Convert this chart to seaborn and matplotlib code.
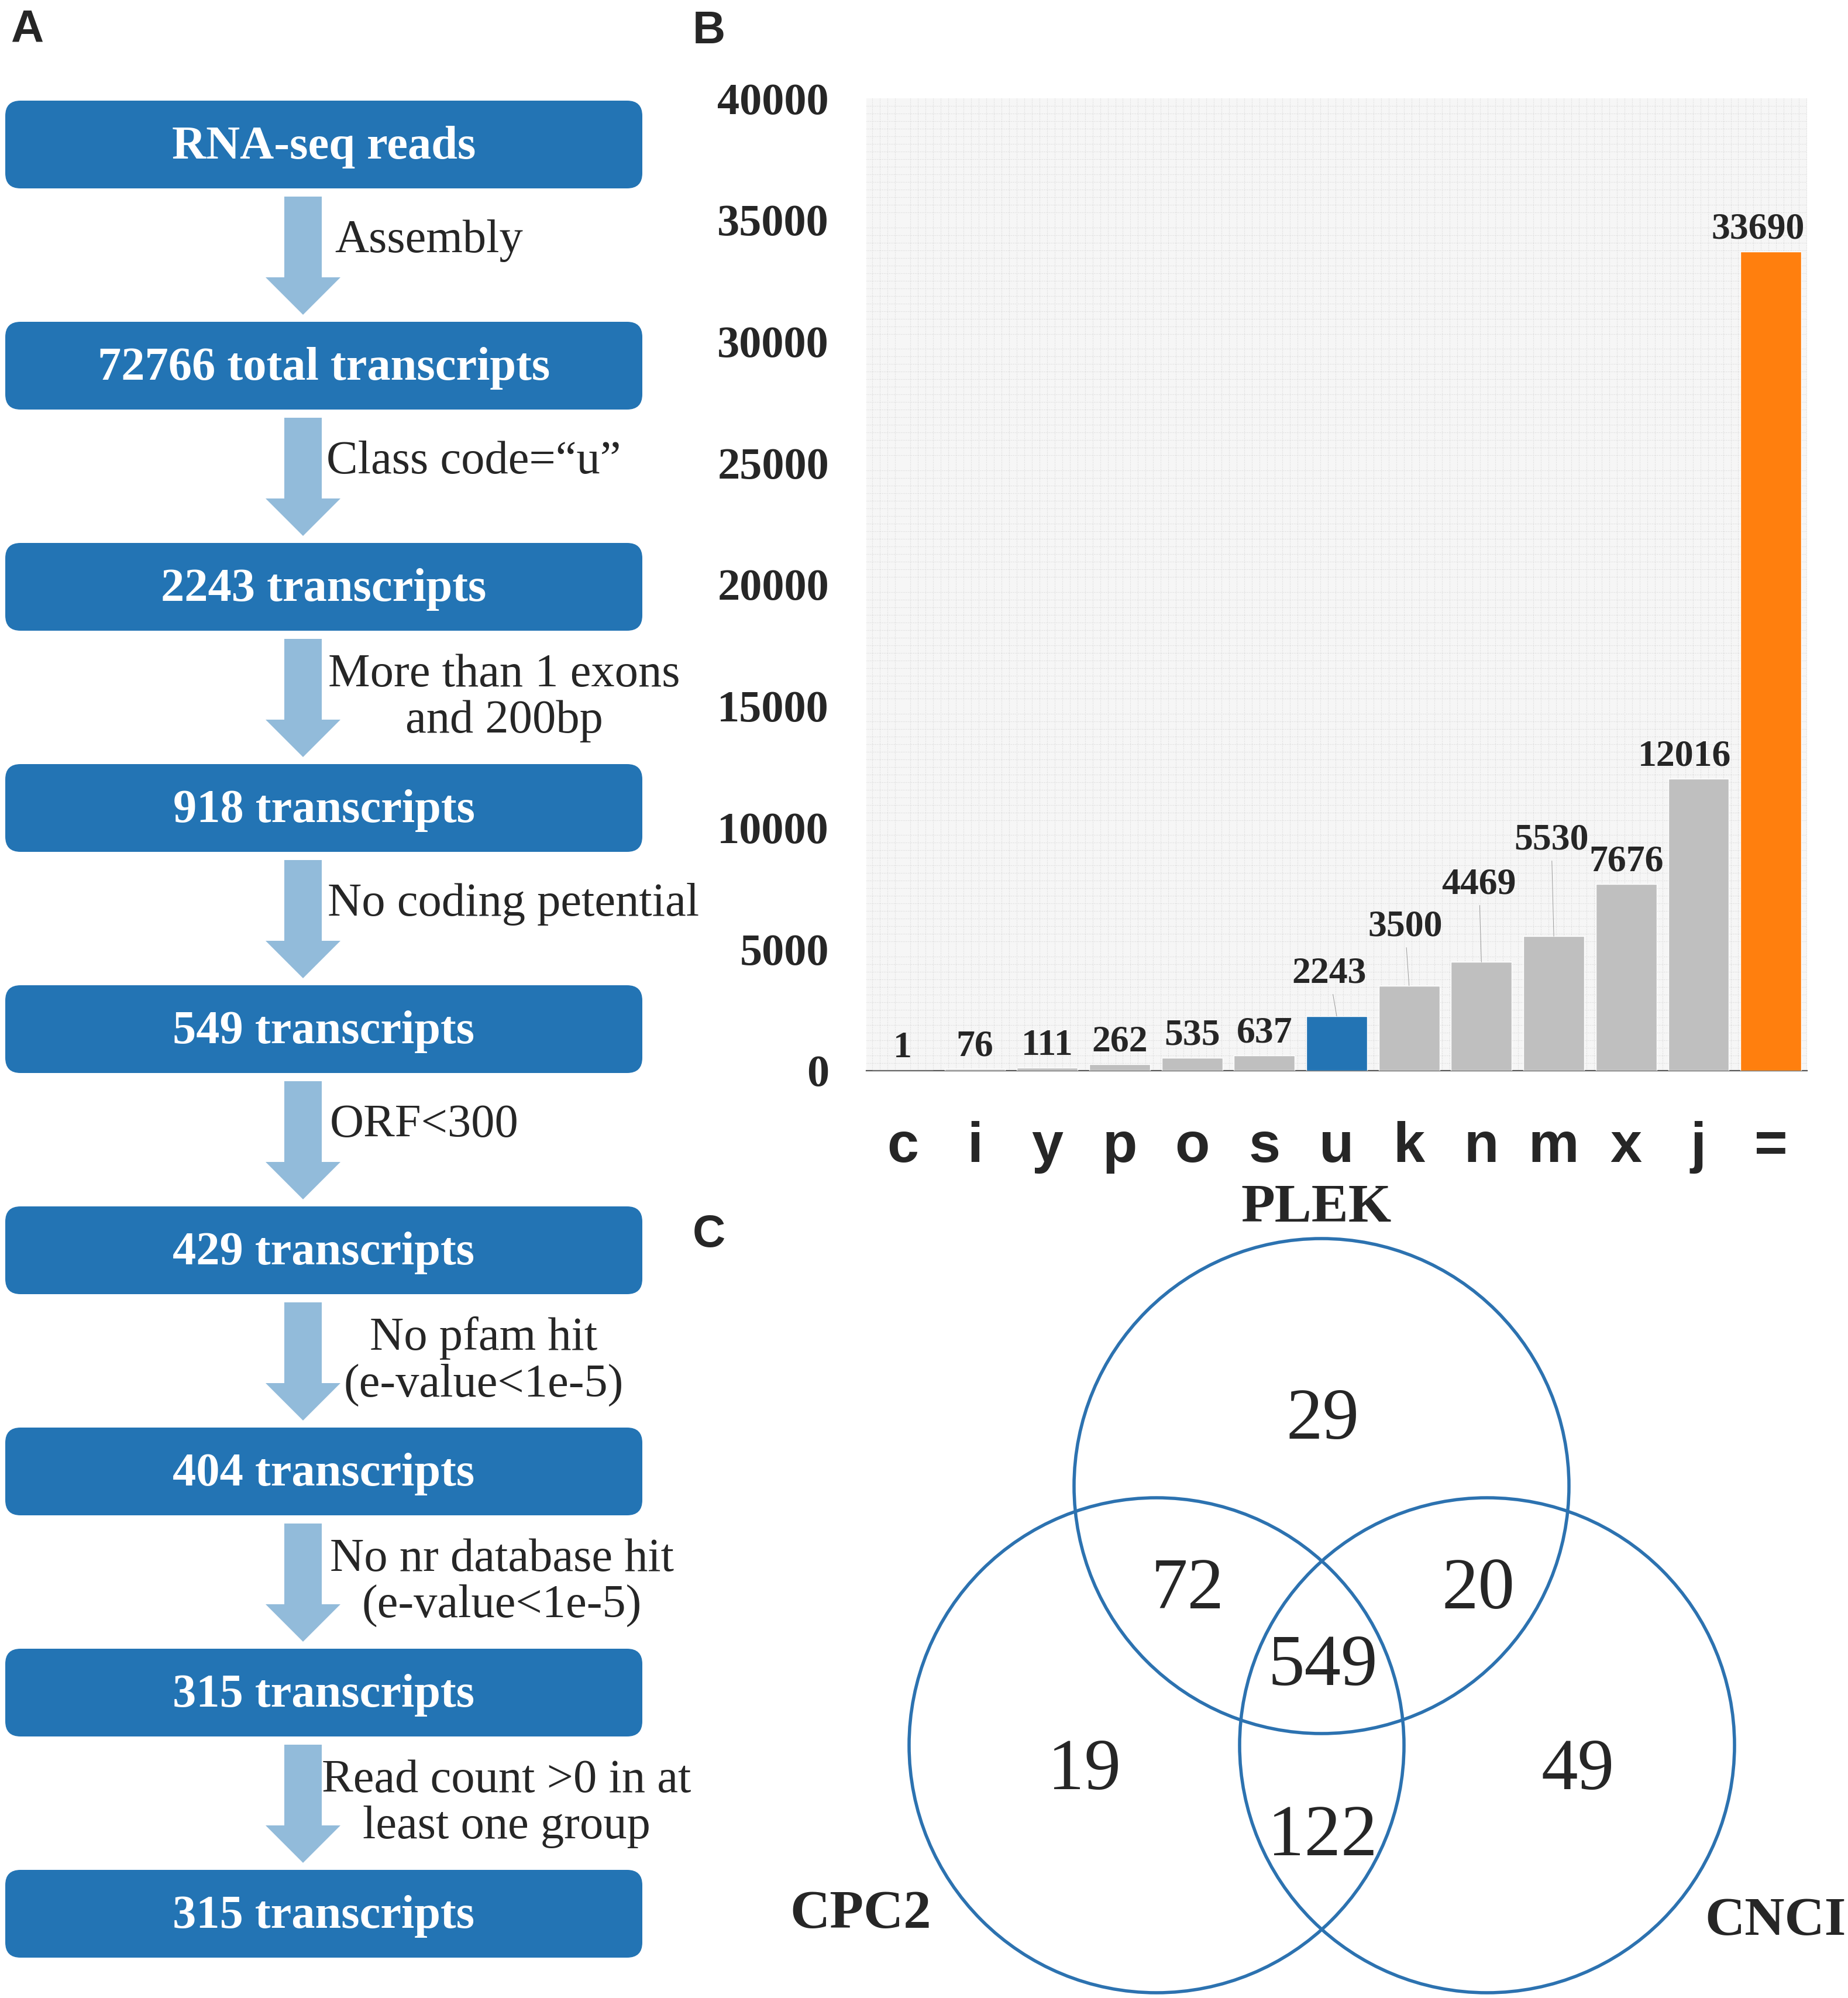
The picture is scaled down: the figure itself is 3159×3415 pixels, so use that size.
import matplotlib
matplotlib.use("Agg")
import matplotlib.pyplot as plt
from matplotlib.patches import FancyBboxPatch, Circle, Polygon
from matplotlib.ticker import MultipleLocator
import seaborn as sns

# ---- data ----
steps = ["RNA-seq reads", "72766 total transcripts", "2243 transcripts",
         "918 transcripts", "549 transcripts", "429 transcripts",
         "404 transcripts", "315 transcripts", "315 transcripts"]
filters = ["Assembly", "Class code=\u201cu\u201d", "More than 1 exons\nand 200bp",
           "No coding petential", "ORF<300", "No pfam hit\n(e-value<1e-5)",
           "No nr database hit\n(e-value<1e-5)", "Read count >0 in at\nleast one group"]

class_codes = ["c", "i", "y", "p", "o", "s", "u", "k", "n", "m", "x", "j", "="]
class_counts = [1, 76, 111, 262, 535, 637, 2243, 3500, 4469, 5530, 7676, 12016, 33690]

venn_sets = ["PLEK", "CPC2", "CNCI"]
venn_counts = [29, 72, 20, 549, 19, 49, 122]  # PLEK, PLEK&CPC2, PLEK&CNCI, all, CPC2, CNCI, CPC2&CNCI

# ---- style ----
BOX = "#2374B4"
ARROW = "#92BBDA"
GRAY = "#BFBFBF"
ORANGE = "#FF7F0E"
VENN = "#2C72B0"
SERIF = "Liberation Serif"
SANS = "Liberation Sans"

sns.set_style("white")
plt.rcParams["font.family"] = [SERIF, "DejaVu Serif"]

W, H = 3159, 3415
fig = plt.figure(figsize=(W / 100, H / 100), dpi=100)
canvas = fig.add_axes([0, 0, 1, 1])
canvas.set_xlim(0, W)
canvas.set_ylim(H, 0)
canvas.axis("off")

# panel letters
for letter, (px, py) in zip("ABC", [(46, 51), (1212, 53), (1212, 2110)]):
    canvas.text(px, py, letter, family=SANS, weight="bold", fontsize=56,
                ha="center", va="center")

# ---- A: flowchart ----
top0, step_h, box_h = 172, 378, 150
box_l, box_r = 9, 1098
cx = 518
label_x = [572, 558, 862, 560, 564, 827, 858, 866]
for i, txt in enumerate(steps):
    top = top0 + i * step_h
    canvas.add_patch(FancyBboxPatch((box_l, top), box_r - box_l, box_h,
                                    boxstyle="round,pad=0,rounding_size=26",
                                    fc=BOX, ec="none"))
    canvas.text((box_l + box_r) / 2, top + box_h / 2 + 4, txt, color="white",
                weight="bold", fontsize=58, ha="center", va="center")

for i, txt in enumerate(filters):
    y0 = top0 + i * step_h + box_h + 14
    y1 = top0 + (i + 1) * step_h - 12
    hl = 64
    pts = [(cx - 32, y0), (cx + 32, y0), (cx + 32, y1 - hl), (cx + 64, y1 - hl),
           (cx, y1), (cx - 64, y1 - hl), (cx - 32, y1 - hl)]
    canvas.add_patch(Polygon(pts, closed=True, fc=ARROW, ec="none"))
    mid = (y0 + y1) / 2
    if "\n" in txt:
        canvas.text(label_x[i], mid, txt, fontsize=58, ha="center", va="center",
                    multialignment="center", linespacing=1.12)
    else:
        canvas.text(label_x[i], mid - 25, txt, fontsize=58, ha="left", va="center")

# ---- B: bar chart ----
ax_l, ax_r, ax_t, ax_b = 1481, 3089, 168, 1830
ax = fig.add_axes([ax_l / W, 1 - ax_b / H, (ax_r - ax_l) / W, (ax_b - ax_t) / H])
bar_colors = [GRAY] * len(class_codes)
bar_colors[class_codes.index("u")] = BOX
bar_colors[class_codes.index("=")] = ORANGE
sns.barplot(x=class_codes, y=class_counts, hue=class_codes, palette=bar_colors,
            legend=False, width=0.84, saturation=1, ax=ax, zorder=3)
ax.set_xlim(-0.5, len(class_codes) - 0.5)
ax.set_ylim(0, 40000)
ax.set_yticks(range(0, 40001, 5000))
ax.set_facecolor("#F6F6F6")
ax.xaxis.set_minor_locator(MultipleLocator(0.105))
ax.yaxis.set_minor_locator(MultipleLocator(312.5))
ax.grid(which="minor", color="#D6D6D6", linestyle=":", linewidth=0.8)
ax.grid(which="major", visible=False)
ax.set_axisbelow(True)
for side in ["left", "top", "right"]:
    ax.spines[side].set_visible(False)
ax.spines["bottom"].set_color("#555555")
ax.spines["bottom"].set_linewidth(1.6)
ax.tick_params(axis="y", which="major", direction="in", length=17, width=1.6,
               color="black", pad=46, labelsize=55)
ax.tick_params(axis="x", which="major", length=0, pad=62, labelsize=70)
ax.tick_params(which="minor", length=0)
for lab in ax.get_yticklabels():
    lab.set_fontweight("bold")
for lab in ax.get_xticklabels():
    lab.set_family(SANS)
    lab.set_fontweight("bold")

# value labels, a few lifted with thin leader lines
lift = {"u": 52, "k": 72, "n": 95, "m": 118}
shift = {"u": -9, "k": -5, "n": -3, "m": -3, "j": -17, "=": -16}
for i, (code, val) in enumerate(zip(class_codes, class_counts)):
    dy = lift.get(code, 27)
    dx = shift.get(code, 0)
    props = None
    if code in lift:
        props = dict(arrowstyle="-", color="#9A9A9A", lw=0.7, shrinkA=2, shrinkB=0)
    ax.annotate(str(val), xy=(i, val), xytext=(dx, dy), textcoords="offset points",
                ha="center", va="center", fontsize=46, weight="bold",
                arrowprops=props, zorder=4)
ax.set_xlabel("")
ax.set_ylabel("")

# ---- C: Venn diagram ----
r = 423
centers = [(2259, 2540), (1977, 2983), (2542, 2983)]
for (x, y) in centers:
    canvas.add_patch(Circle((x, y), r, fill=False, ec=VENN, lw=4))
region_xy = [(2261, 2429), (2030, 2719), (2527, 2719), (2261, 2850),
             (1854, 3028), (2697, 3028), (2261, 3141)]
for (x, y), n in zip(region_xy, venn_counts):
    canvas.text(x, y, str(n), fontsize=90, ha="center", va="center")
set_xy = [(2250, 2065), (1471, 3272), (3035, 3285)]
for (x, y), name in zip(set_xy, venn_sets):
    canvas.text(x, y, name, fontsize=68, weight="bold", ha="center", va="center")

fig.savefig("out.png", dpi=100, facecolor="white")
